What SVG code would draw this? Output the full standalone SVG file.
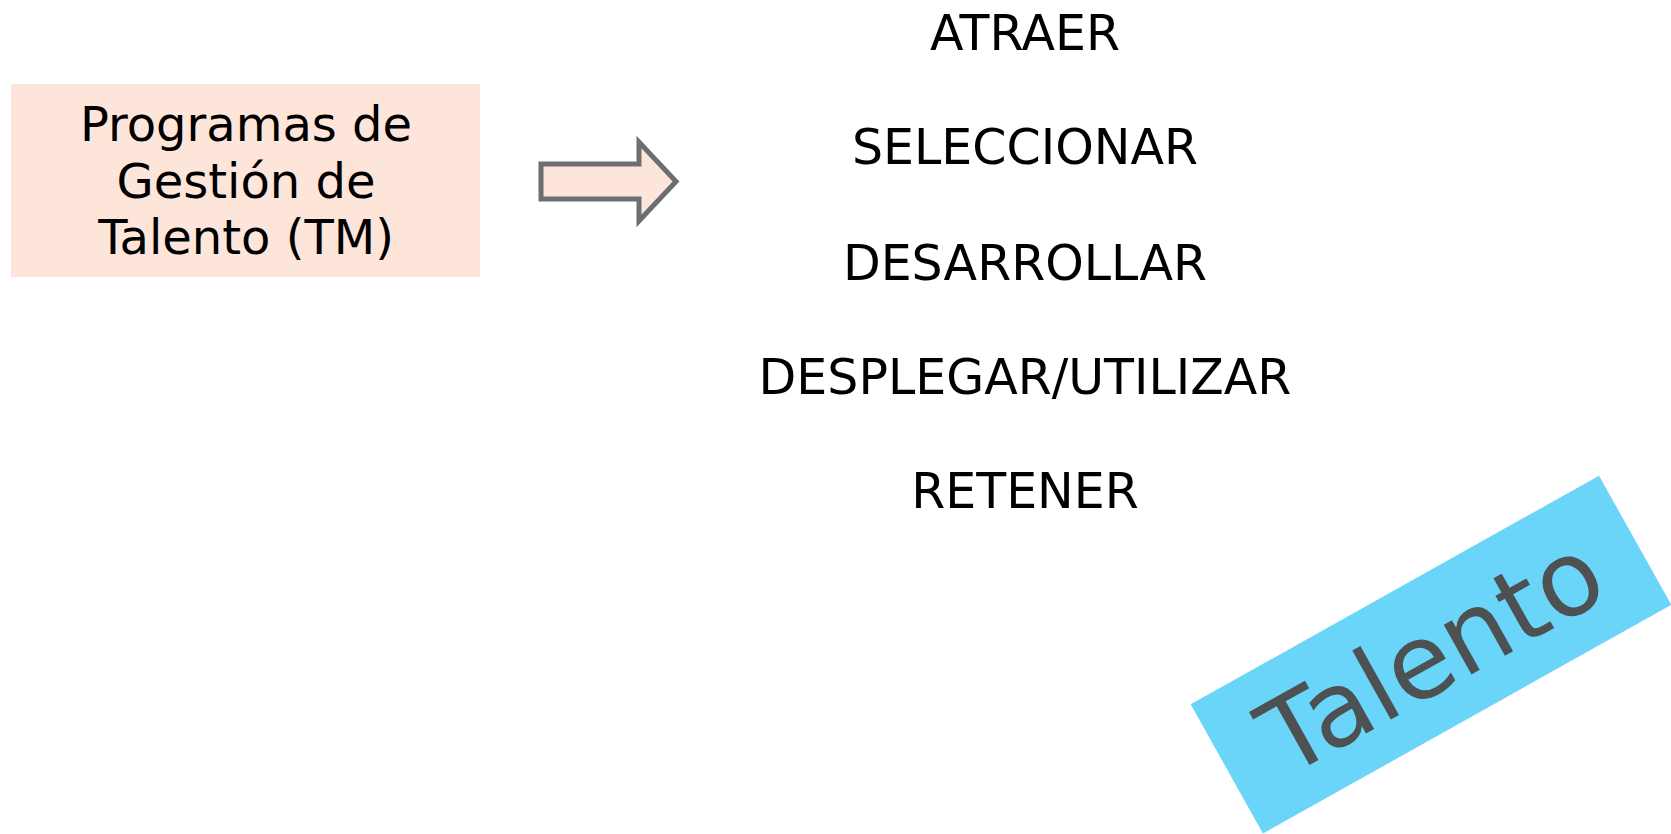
<svg xmlns="http://www.w3.org/2000/svg" width="1671" height="834" viewBox="0 0 1671 834">
  <style>
    .t { font-family: "DejaVu Sans", Verdana, sans-serif; font-size: 48px; fill: #000; text-anchor: middle; }
    .s { font-size: 49px; }
    .big { font-family: "DejaVu Sans", Verdana, sans-serif; font-size: 104px; fill: #4d5152; text-anchor: middle; }
  </style>
  <rect width="1671" height="834" fill="#ffffff"/>
  <g id="tm-box">
    <rect x="11" y="84" width="469" height="193" fill="#fee5da"/>
    <text class="t" x="246" y="141">Programas de</text>
    <text class="t" x="246" y="197.5">Gestión de</text>
    <text class="t" x="246" y="254">Talento (TM)</text>
  </g>
  <g id="connectors">
    <path d="M541,164 L639,164 L639,142 L676,181.5 L639,221 L639,199 L541,199 Z" fill="#fee5da" stroke="#6d6e71" stroke-width="5" stroke-linejoin="miter"/>
  </g>
  <g id="stages">
    <text class="t s" x="1025" y="50">ATRAER</text>
    <text class="t s" x="1025" y="164">SELECCIONAR</text>
    <text class="t s" x="1025" y="280">DESARROLLAR</text>
    <text class="t s" x="1025" y="394">DESPLEGAR/UTILIZAR</text>
    <text class="t s" x="1025" y="508">RETENER</text>
  </g>
  <g id="talento" transform="translate(1431,654.6) rotate(-29.24)">
    <rect x="-234" y="-74" width="468" height="148" fill="#6bd5f9"/>
    <text class="big" x="0" y="37">Talento</text>
  </g>
</svg>
